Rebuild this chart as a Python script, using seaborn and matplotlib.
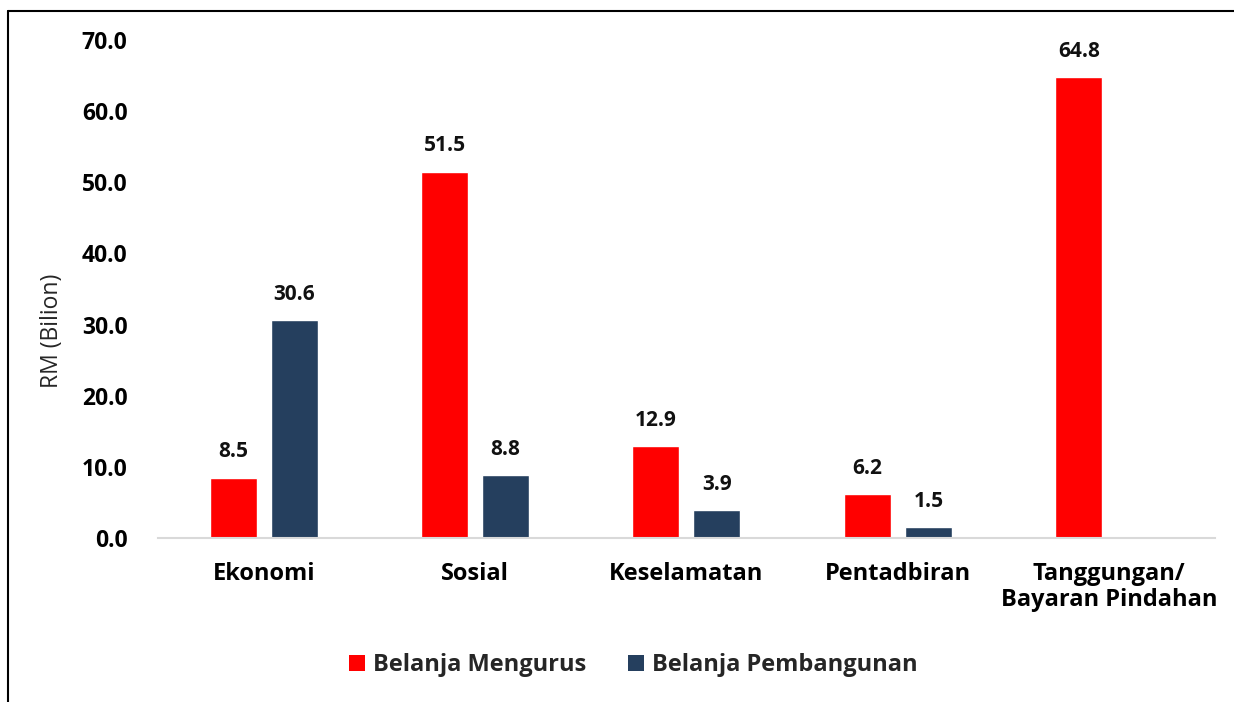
import pandas as pd
import numpy as np
import matplotlib.pyplot as plt
import seaborn as sns
from matplotlib.lines import Line2D
from matplotlib.patches import Patch

# Data
kategori = ["Ekonomi", "Sosial", "Keselamatan", "Pentadbiran", "Tanggungan/\nBayaran Pindahan"]
belanja_mengurus = [8.5, 51.5, 12.9, 6.2, 64.8]
belanja_pembangunan = [30.6, 8.8, 3.9, 1.5, 0.0]
siri = ["Belanja Mengurus", "Belanja Pembangunan"]
warna = ["#FF0000", "#253F5E"]

df = pd.DataFrame({
    "kategori": kategori * 2,
    "nilai": belanja_mengurus + belanja_pembangunan,
    "siri": [siri[0]] * len(kategori) + [siri[1]] * len(kategori),
})

sns.set_theme(style="white")
plt.rcParams["font.family"] = ["Open Sans", "DejaVu Sans"]

fig = plt.figure(figsize=(12.34, 7.02), dpi=100)
ax = fig.add_axes([0.128, 0.2336, 0.8566, 0.7094])

sns.barplot(data=df, x="kategori", y="nilai", hue="siri", palette=warna,
            width=0.577, gap=0.23, ax=ax, legend=False, saturation=1)

# label nilai
for cont in ax.containers:
    labels = [f"{b.get_height():.1f}" if b.get_height() > 0 else "" for b in cont]
    ax.bar_label(cont, labels=labels, padding=11, fontsize=15, fontweight="bold", color="#111111")

ax.set_ylim(0, 70)
ax.set_xlim(-0.5, len(kategori) - 0.5)
ax.set_yticks(np.arange(0, 71, 10))
ax.set_yticklabels([f"{v:.1f}" for v in np.arange(0, 71, 10)], fontsize=16.5, fontweight="bold")
ax.tick_params(axis="y", length=0, pad=22, colors="black")
ax.tick_params(axis="x", length=0, pad=17, labelsize=17, colors="black")
for t in ax.get_xticklabels():
    t.set_fontweight("bold")
    t.set_linespacing(1.15)
ax.set_xlabel("")
ax.set_ylabel("RM (Bilion)", fontsize=16.5)
ax.yaxis.set_label_coords(-0.089, 0.416)

sns.despine(ax=ax, left=True)
ax.spines["bottom"].set_color("#d9d9d9")
ax.spines["bottom"].set_linewidth(1.5)

# legenda
handles = [Patch(facecolor=c, edgecolor="none") for c in warna]
fig.legend(handles, siri, loc="center", bbox_to_anchor=(0.513, 0.052), ncol=2,
           frameon=False, prop={"size": 17, "weight": "bold"},
           handlelength=0.68, handleheight=0.68, handletextpad=0.35, columnspacing=1.75)

# bingkai
fig.add_artist(Line2D([0.0065, 0.0065], [0.0, 0.984], color="black", linewidth=1.5))
fig.add_artist(Line2D([0.0065, 1.0], [0.984, 0.984], color="black", linewidth=1.5))

fig.savefig("out.png", dpi=100)
plt.close()
